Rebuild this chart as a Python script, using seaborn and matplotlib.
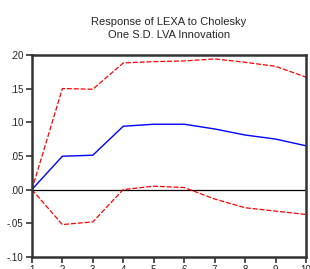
import matplotlib
matplotlib.use("Agg")
import matplotlib.pyplot as plt
import numpy as np
import pandas as pd
import seaborn as sns

# impulse response of LEXA to a one S.D. LVA shock, with +/- 2 S.E. bands
periods = [1, 2, 3, 4, 5, 6, 7, 8, 9, 10]
response = [0.000, 0.0495, 0.051, 0.094, 0.097, 0.097, 0.090, 0.081, 0.075, 0.065]
upper_band = [0.000, 0.150, 0.149, 0.188, 0.190, 0.191, 0.194, 0.189, 0.183, 0.167]
lower_band = [0.000, -0.052, -0.048, 0.000, 0.005, 0.003, -0.014, -0.027, -0.032, -0.037]
y_ticks = [-0.10, -0.05, 0.00, 0.05, 0.10, 0.15, 0.20]
y_labels = ["-.10", "-.05", ".00", ".05", ".10", ".15", ".20"]

sns.set_style("white")
plt.rcParams["font.family"] = ["Liberation Sans", "DejaVu Sans"]

df = pd.DataFrame(
    {"period": periods, "response": response, "upper": upper_band, "lower": lower_band}
)

fig = plt.figure(figsize=(3.1, 2.69), dpi=100)
ax = fig.add_axes([0.103, 0.045, 0.884, 0.751])

ax.axhline(0, color="black", linewidth=0.9, zorder=1)
sns.lineplot(data=df, x="period", y="upper", ax=ax, color="#ff0000",
             linewidth=0.9, linestyle=(0, (4, 1.5)))
sns.lineplot(data=df, x="period", y="lower", ax=ax, color="#ff0000",
             linewidth=0.9, linestyle=(0, (4, 1.5)))
sns.lineplot(data=df, x="period", y="response", ax=ax, color="#0000ff",
             linewidth=1.0)

ax.set_xlim(1, 10)
ax.set_ylim(-0.10, 0.20)
ax.set_xticks(periods)
ax.set_yticks(y_ticks)
ax.set_yticklabels(y_labels)
ax.set_xlabel("")
ax.set_ylabel("")
ax.tick_params(axis="both", labelsize=7, length=4, width=1.2, color="#333333",
               labelcolor="#222222", direction="out", pad=2, left=True, bottom=True)
for sp in ax.spines.values():
    sp.set_color("#333333")
    sp.set_linewidth(1.8)

ax.set_title("Response of LEXA to Cholesky\nOne S.D. LVA Innovation",
             fontsize=8, linespacing=1.45, pad=12)

fig.savefig("out.png", dpi=100)
